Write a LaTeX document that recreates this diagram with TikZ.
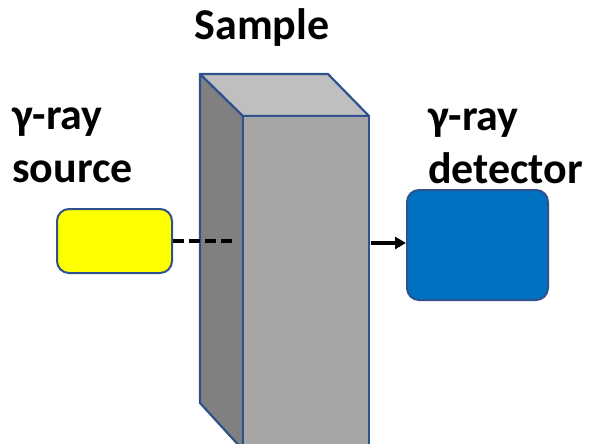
\documentclass[tikz,border=0pt]{standalone}
\usepackage{fontspec}
\setmainfont{Carlito}
\usetikzlibrary{arrows.meta, positioning}

\definecolor{edgeblue}{HTML}{2F528F}
\definecolor{detblue}{HTML}{0070C0}
\definecolor{srcyellow}{HTML}{FFFF00}

\begin{document}
\begin{tikzpicture}[
    x=1pt,
    y=-1pt,
    >={Triangle[length=11pt,width=12pt]},
    box/.style={draw=edgeblue, line width=2pt, rounded corners=12pt},
    face/.style={draw=edgeblue, line width=2.2pt, line join=round},
    label/.style={font=\fontsize{44}{53}\selectfont\bfseries, align=left, inner sep=0pt},
]
    \clip (0,0) rectangle (592,444);

    % sample slab
    \filldraw[face, fill=black!50] (200,74) -- (243,116) -- (243,450) -- (200,403) -- cycle;
    \filldraw[face, fill=black!25] (200,74) -- (328,74) -- (369,116) -- (243,116) -- cycle;
    \filldraw[face, fill=black!35] (243,116) rectangle (369,450);

    \node[box, fill=srcyellow, minimum width=115pt, minimum height=64pt] (source) at (114.5,241) {};
    \node[box, fill=detblue, minimum width=141pt, minimum height=110pt] (detector) at (477.5,245) {};

    \coordinate (beamin)  at (232,241);
    \coordinate (beamout) at (371,243);

    \draw[line width=3.5pt, dash pattern=on 11pt off 5pt] (source.east) -- (beamin);
    \draw[->, line width=3.5pt] (beamout) -- (detector.west |- beamout);

    % labels
    \node[label, anchor=base] (sample) at (262,40) {Sample};
    \node[label, anchor=north west] (srclabel) at (12,108) {γ-ray\\source};
    \node[label, anchor=north west] (detlabel) at (428,109) {γ-ray\\detector};
\end{tikzpicture}
\end{document}
